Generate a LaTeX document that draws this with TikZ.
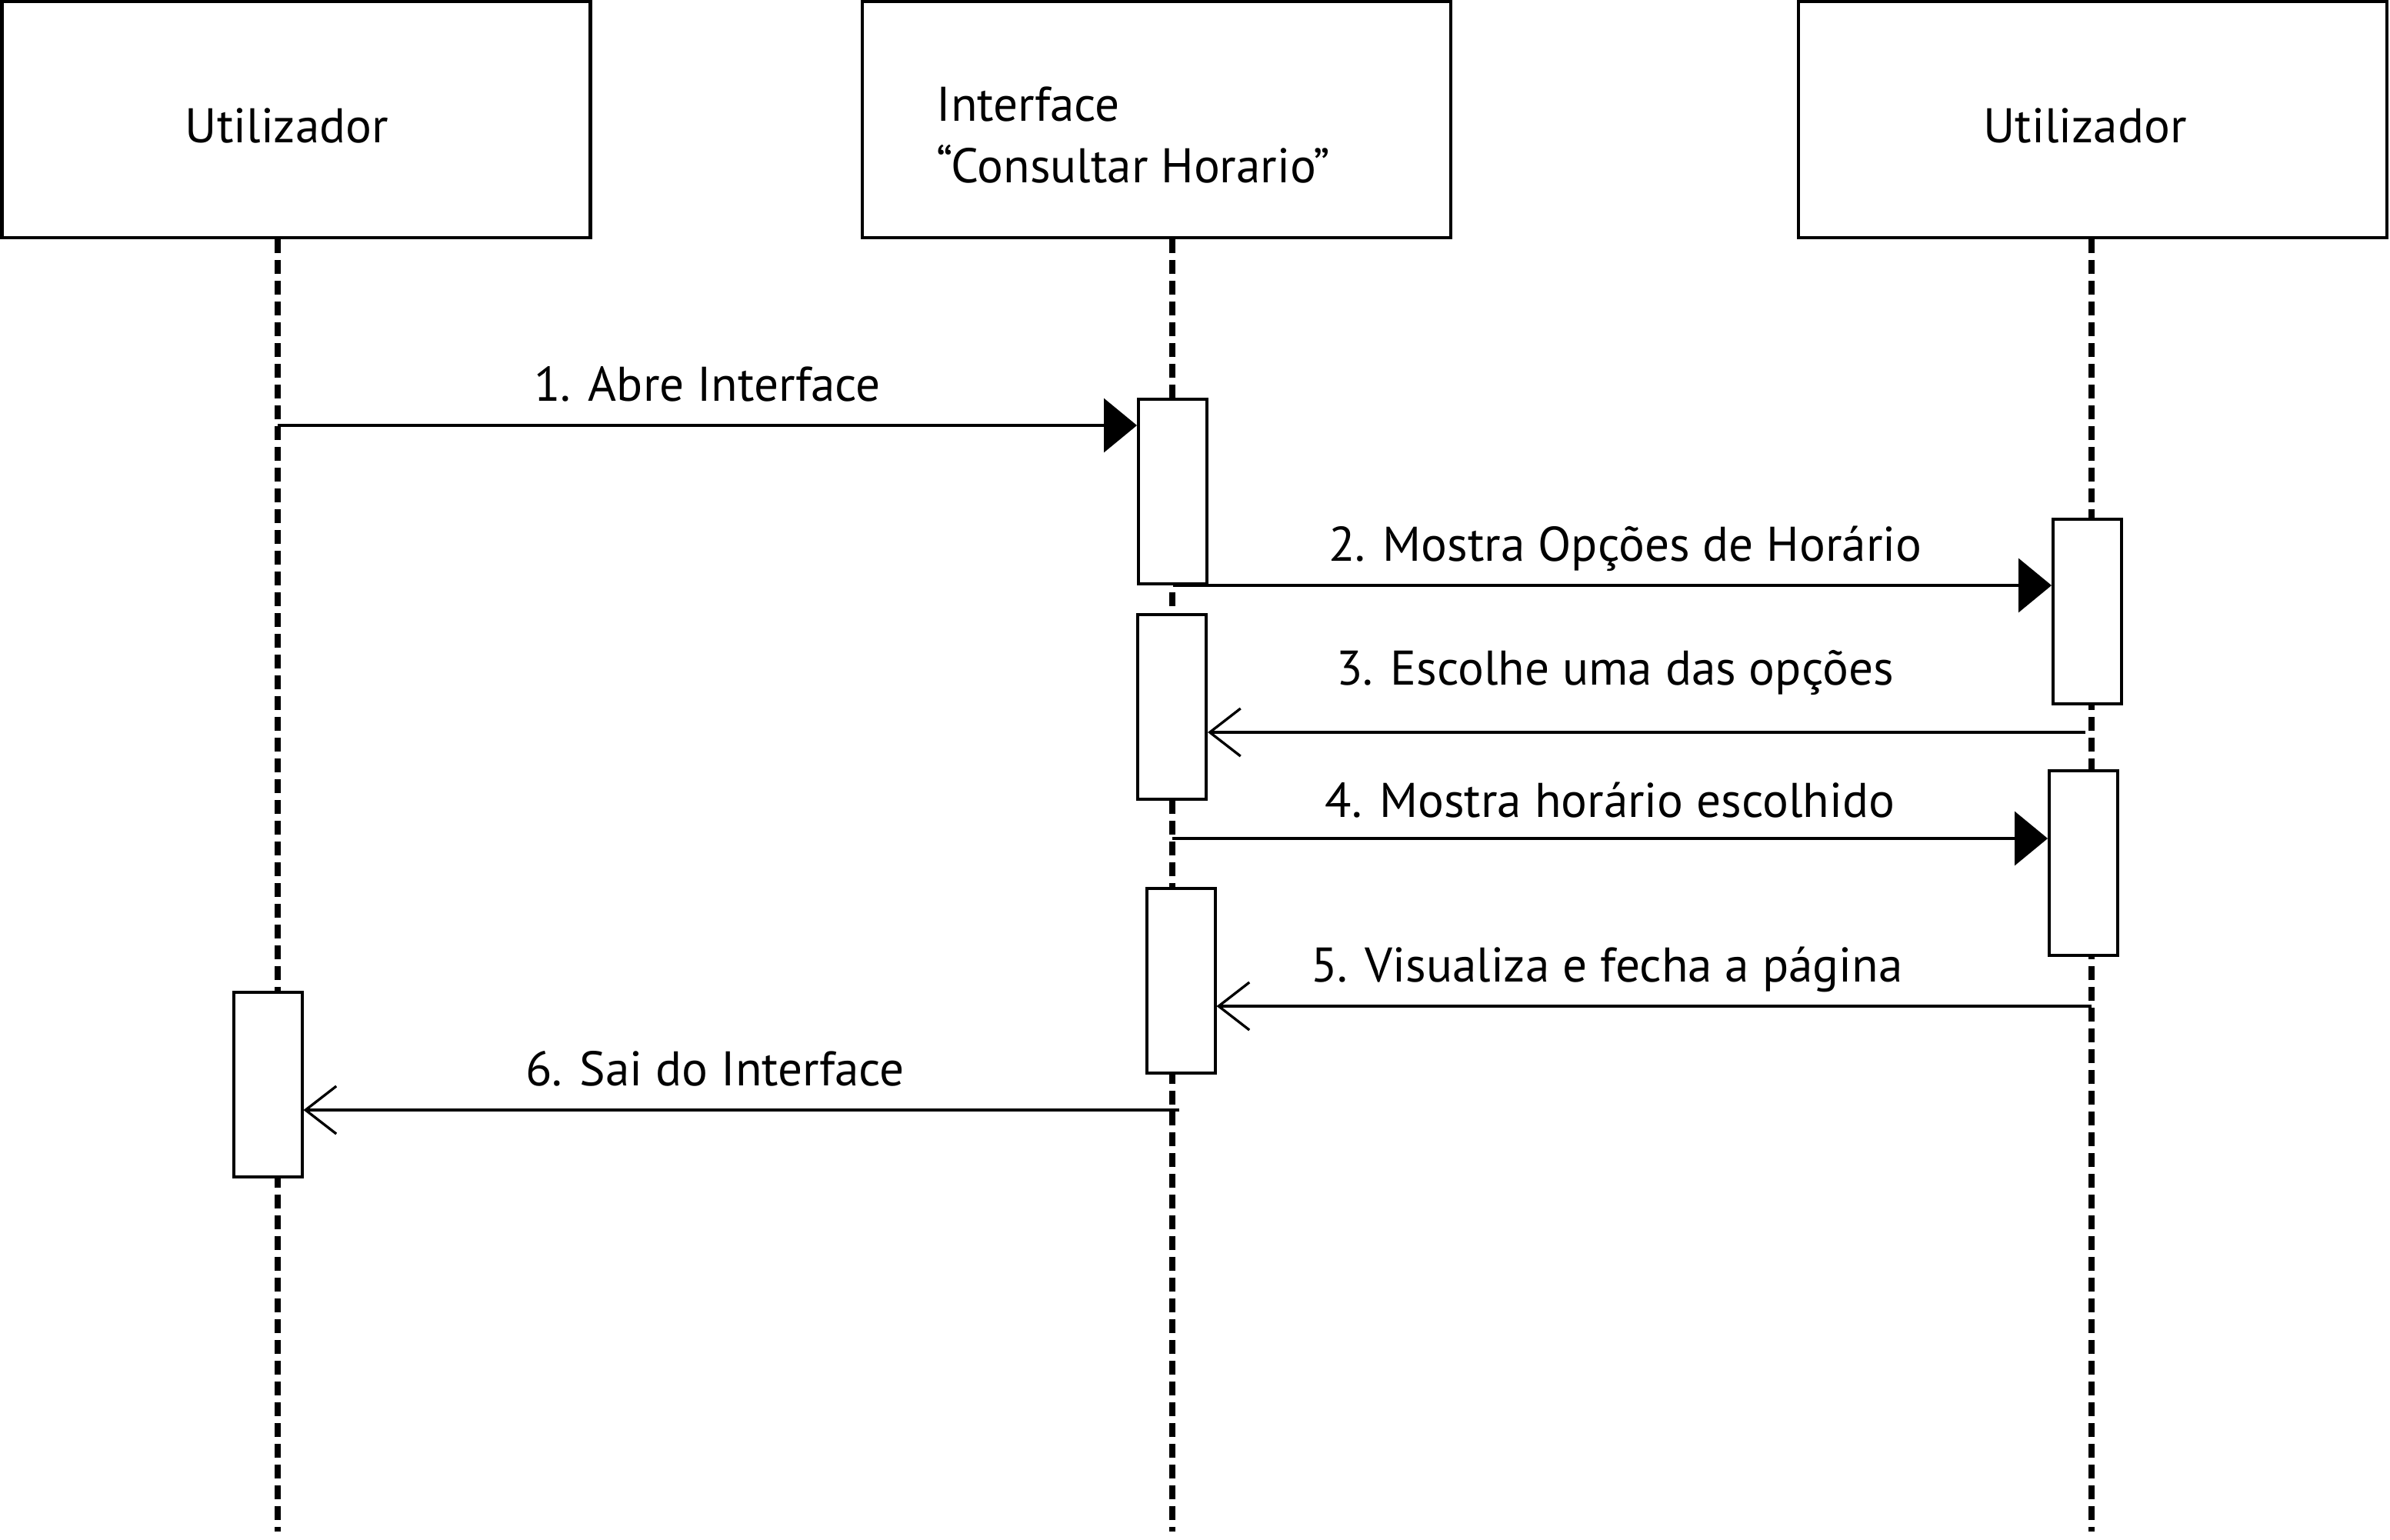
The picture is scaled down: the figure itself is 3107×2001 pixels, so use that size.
\documentclass[tikz,border=0pt]{standalone}
\usepackage{fontspec}
\setmainfont{PT Sans}
\usetikzlibrary{arrows.meta}

\begin{document}
\begin{tikzpicture}[x=0.1mm, y=-0.1mm,
    every node/.style={font=\fontsize{18}{22.8}\selectfont},
    every label/.style={font=\fontsize{18}{22.8}\selectfont, inner sep=0pt},
    head/.style={draw, line width=0.45mm, minimum width=76.5mm, minimum height=30.7mm, inner sep=0pt},
    lifeline/.style={line width=0.75mm, dash pattern=on 1.8mm off 0.9mm},
    act/.style={draw, fill=white, line width=0.4mm, minimum width=8.9mm, minimum height=24mm, inner sep=0pt},
    call/.style={line width=0.33mm, -{Triangle[length=4.3mm,width=7mm]}},
    reply/.style={line width=0.33mm, -{Straight Barb[length=4mm,width=6.2mm]}},
    msg/.style={anchor=base, yshift=#1}, msg/.default=3.2mm]
  \useasboundingbox (0,0) rectangle (3107,2001);
  % header boxes
  \node[head, label={[xshift=-1.2mm, yshift=-0.8mm]center:Utilizador}] (user1) at (385,155.5) {};
  \node[head, label={[align=left, xshift=-3mm, yshift=-2mm]center:{Interface\\“Consultar Horario”}}] (iface) at (1503.5,155.5) {};
  \node[head, label={[xshift=-1mm, yshift=-0.8mm]center:Utilizador}] (user2) at (2720.5,155.5) {};
  % lifelines
  \coordinate (l1) at (361,1991);
  \coordinate (l2) at (1524,1991);
  \coordinate (l3) at (2719,1991);
  \draw[lifeline] (l1 |- user1.south) -- (l1);
  \draw[lifeline] (l2 |- iface.south) -- (l2);
  \draw[lifeline] (l3 |- user2.south) -- (l3);
  % activations
  \node[act] (a1) at (1524.5,639) {};
  \node[act] (a2) at (2713.5,794.5) {};
  \node[act] (a3) at (1523.5,918.5) {};
  \node[act] (a4) at (2708.5,1121.5) {};
  \node[act] (a5) at (1535,1274.5) {};
  \node[act] (a6) at (348,1410) {};
  % messages
  \coordinate (m1) at (361,553);
  \coordinate (m3) at (2711,952);
  \coordinate (m4) at (1524,1090);
  \coordinate (m5) at (2719,1308);
  \coordinate (m6) at (1533,1443);
  \draw[call] (m1) -- node[msg] {1. Abre Interface} (m1 -| a1.west);
  \draw[call] (a1.south) -- node[msg, pos=0.515] {2. Mostra Opções de Horário} (a1.south -| a2.west);
  \draw[reply] (m3) -- node[msg=6.2mm, pos=0.536] {3. Escolhe uma das opções} (m3 -| a3.east);
  \draw[call] (m4) -- node[msg=2.8mm] {4. Mostra horário escolhido} (m4 -| a4.west);
  \draw[reply] (m5) -- node[msg, pos=0.554] {5. Visualiza e fecha a página} (m5 -| a5.east);
  \draw[reply] (m6) -- node[msg, pos=0.53] {6. Sai do Interface} (m6 -| a6.east);
\end{tikzpicture}
\end{document}
